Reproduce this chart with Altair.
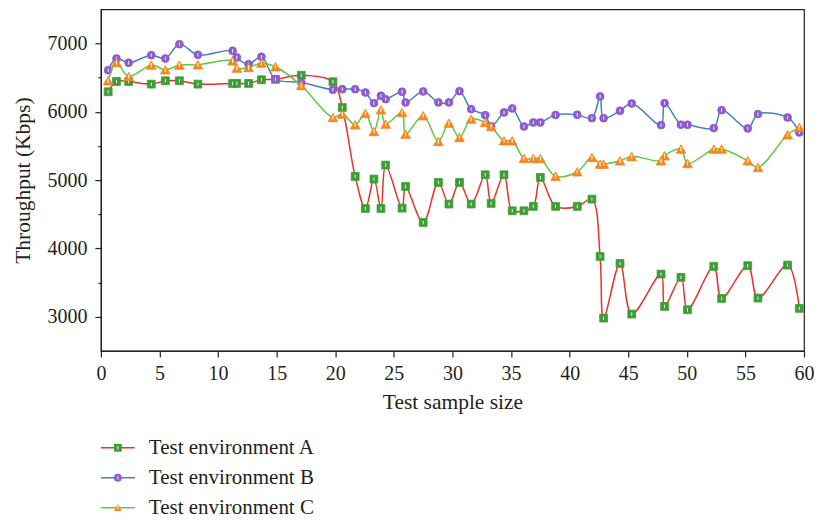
import altair as alt
import pandas as pd

# ---- data ----
x_vals = [0.62, 1.33, 2.37, 4.3, 5.5, 6.7, 8.28, 11.24, 11.6, 12.6, 13.7, 14.9, 17.1, 19.8,
          20.6, 21.7, 22.57, 23.3, 23.9, 24.3, 25.7, 26.0, 27.5, 28.8, 29.7, 30.6, 31.6, 32.8,
          33.3, 34.4, 35.1, 36.1, 36.9, 37.5, 38.8, 40.65, 41.9, 42.6, 42.9, 44.3, 45.3, 47.8,
          48.1, 49.5, 50.06, 52.3, 52.97, 55.2, 56.07, 58.6, 59.6]

env_a = [6293, 6444, 6444, 6405, 6454, 6454, 6405, 6415, 6415, 6415, 6469, 6475, 6535, 6440,
         6063, 5054, 4585, 5015, 4585, 5220, 4590, 4907, 4380, 4966, 4649, 4966, 4649, 5078,
         4659, 5078, 4551, 4551, 4615, 5039, 4615, 4615, 4722, 3883, 2980, 3780, 3039, 3624,
         3151, 3576, 3103, 3737, 3268, 3747, 3273, 3756, 3122]

env_b = [6609, 6780, 6717, 6829, 6780, 6990, 6834, 6893, 6795, 6697, 6805, 6478, 6429, 6322,
         6331, 6331, 6283, 6127, 6235, 6185, 6293, 6137, 6298, 6137, 6137, 6302, 6039, 5950,
         5790, 5990, 6049, 5785, 5844, 5844, 5953, 5956, 5907, 6224, 5907, 6015, 6122, 5805,
         6127, 5810, 5810, 5761, 6024, 5756, 5966, 5917, 5698]

env_c = [6454, 6722, 6517, 6683, 6615, 6683, 6688, 6746, 6639, 6649, 6712, 6659, 6385, 5917,
         5966, 5810, 5976, 5712, 6029, 5819, 5990, 5673, 5942, 5566, 5834, 5624, 5893, 5844,
         5785, 5576, 5576, 5317, 5317, 5317, 5057, 5122, 5332, 5234, 5234, 5283, 5346, 5283,
         5356, 5454, 5244, 5454, 5454, 5283, 5185, 5664, 5771]

series_names = ["Test environment A", "Test environment B", "Test environment C"]

x_ticks = [0, 2.5, 5, 7.5, 10, 12.5, 15, 17.5, 20, 22.5, 25, 27.5, 30, 32.5, 35, 37.5,
           40, 42.5, 45, 47.5, 50, 52.5, 55, 57.5, 60]
y_ticks = [3000, 3500, 4000, 4500, 5000, 5500, 6000, 6500, 7000]

# ---- styles ----
line_colors = ["#e8322b", "#3f82c4", "#5cc944"]
marker_colors = ["#3c9e36", "#8d5ccf", "#f7861c"]
shapes = ["square", "circle", "triangle-up"]
marker_sizes = [62, 62, 95]
stripe = "M-0.13,-0.5L0.13,-0.5L0.13,0.5L-0.13,0.5Z"
FONT = "Liberation Serif"

rows = []
for name, vals in zip(series_names, [env_a, env_b, env_c]):
    for xv, yv in zip(x_vals, vals):
        rows.append({"x": xv, "y": yv, "series": name})
df = pd.DataFrame(rows)

x_enc = alt.X(
    "x:Q",
    scale=alt.Scale(domain=[0, 60], nice=False, zero=False),
    axis=alt.Axis(
        values=x_ticks,
        labelExpr="datum.value % 5 === 0 ? datum.label : ''",
        tickSize={"condition": {"test": "datum.value % 5 !== 0", "value": 3}, "value": 6},
        title="Test sample size",
        grid=False,
        labelPadding=7,
        titlePadding=8,
        labelFlush=False,
        labelOverlap=False,
    ),
)
y_enc = alt.Y(
    "y:Q",
    scale=alt.Scale(domain=[2500, 7500], nice=False, zero=False),
    axis=alt.Axis(
        values=y_ticks,
        format="d",
        labelExpr="datum.value % 1000 === 0 ? datum.label : ''",
        tickSize={"condition": {"test": "datum.value % 1000 !== 0", "value": 3}, "value": 6},
        title="Throughput (Kbps)",
        grid=False,
        labelPadding=8,
        titlePadding=12,
        labelFlush=False,
        labelOverlap=False,
    ),
)

layers = []
for i, name in enumerate(series_names):
    base = alt.Chart(df).transform_filter(alt.datum.series == name)
    layers.append(
        base.mark_line(color=line_colors[i], strokeWidth=1.5, interpolate="catmull-rom")
        .encode(x=x_enc, y=y_enc)
    )
    layers.append(
        base.mark_point(shape=shapes[i], filled=True, size=marker_sizes[i],
                        color=marker_colors[i], opacity=1,
                        stroke=marker_colors[i], strokeWidth=0.8)
        .encode(x="x:Q", y="y:Q")
    )
    layers.append(
        base.mark_point(shape=stripe, filled=True, size=marker_sizes[i] * 0.75,
                        color="white", opacity=1, strokeWidth=0)
        .encode(x="x:Q", y="y:Q")
    )

main = alt.layer(*layers).properties(width=704, height=342)

# ---- legend panel ----
leg_df = pd.DataFrame({"series": series_names})
leg_y = alt.Y("series:N", axis=None,
              scale=alt.Scale(type="point", domain=series_names, padding=0.2))
leg_base = alt.Chart(leg_df)
leg_lines = leg_base.mark_rule(strokeWidth=1.5).encode(
    x=alt.value(0), x2=alt.value(34), y=leg_y,
    color=alt.Color("series:N", scale=alt.Scale(domain=series_names, range=line_colors), legend=None),
)
leg_marks = leg_base.mark_point(filled=True, opacity=1, size=62).encode(
    x=alt.value(17), y=leg_y,
    shape=alt.Shape("series:N", scale=alt.Scale(domain=series_names, range=shapes), legend=None),
    fill=alt.Fill("series:N", scale=alt.Scale(domain=series_names, range=marker_colors), legend=None),
)
leg_stripes = leg_base.mark_point(shape=stripe, filled=True, color="white", opacity=1, size=48).encode(
    x=alt.value(17), y=leg_y,
)
leg_text = leg_base.mark_text(align="left", baseline="middle", font=FONT, fontSize=21,
                              color="#231f20").encode(
    x=alt.value(48), y=leg_y, text="series:N",
)
legend = alt.layer(leg_lines, leg_marks, leg_stripes, leg_text).resolve_scale(
    color="independent", fill="independent"
).properties(width=400, height=72, view=alt.ViewConfig(stroke=None))

chart = alt.vconcat(main, legend, spacing=22).resolve_scale(
    y="independent", x="independent"
).properties(
    padding={"left": 4, "top": 0, "right": 0, "bottom": 0},
    background="white",
).configure_view(
    stroke="#222", strokeWidth=1.2
).configure_axis(
    domainColor="#222", tickColor="#222", labelColor="#231f20", titleColor="#231f20",
    labelFont=FONT, titleFont=FONT, labelFontSize=20, titleFontSize=21.5,
    titleFontWeight="normal", domainWidth=1.2, tickWidth=1.2,
)

chart.save("out.html", embed_options={"renderer": "svg", "actions": False})
